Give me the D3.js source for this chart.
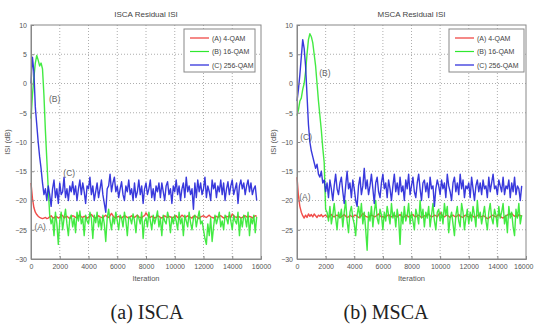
<!DOCTYPE html>
<html><head><meta charset="utf-8">
<script src="https://cdn.jsdelivr.net/npm/d3@7"></script>
<style>
html,body{margin:0;padding:0;background:#fff;}
svg{display:block;}
</style></head>
<body>
<svg id="fig" width="534" height="326"></svg>
<script>
// ---------- data (sampled every 100 iterations, 0..15700) ----------
const iterations = d3.range(0, 15701, 100);
const xTicks = [0,2000,4000,6000,8000,10000,12000,14000,16000];
const yTicks = [10,5,0,-5,-10,-15,-20,-25,-30];
const seriesNames = ["(A) 4-QAM","(B) 16-QAM","(C) 256-QAM"];
const seriesColors = ["#ee3a36","#2fe82f","#2323d8"];

const iscaA = [
-17.0,-19.6,-21.2,-22.0,-22.4,-22.7,-22.9,-23.0,-23.1,-23.0,
-22.9,-23.1,-23.0,-22.8,-22.6,-22.9,-23.0,-22.7,-22.8,-23.0,
-22.9,-22.4,-22.6,-23.0,-22.8,-22.7,-22.9,-23.1,-22.8,-22.6,
-22.7,-22.9,-23.0,-22.6,-22.5,-22.8,-22.9,-22.7,-22.8,-23.0,
-22.9,-22.6,-22.4,-22.7,-22.9,-23.0,-22.8,-22.6,-22.8,-22.9,
-23.0,-22.7,-22.5,-22.8,-22.9,-22.6,-22.2,-22.6,-22.9,-23.0,
-22.8,-22.7,-22.9,-23.0,-22.8,-22.6,-22.7,-22.9,-23.0,-22.8,
-22.6,-22.8,-22.9,-22.7,-22.5,-22.8,-22.9,-23.0,-22.7,-22.6,
-22.1,-22.5,-22.8,-22.9,-22.7,-22.8,-23.0,-22.9,-22.6,-22.7,
-22.9,-23.0,-22.8,-22.6,-22.8,-22.9,-22.7,-22.8,-23.0,-22.9,
-22.7,-22.6,-22.9,-23.0,-22.8,-22.5,-22.7,-22.9,-22.8,-22.6,
-22.8,-22.9,-23.0,-22.7,-22.6,-22.8,-22.9,-23.1,-22.8,-22.7,
-22.6,-22.8,-22.9,-22.7,-22.5,-22.8,-22.9,-23.0,-22.8,-22.7,
-22.9,-22.7,-22.6,-22.8,-23.0,-22.9,-22.7,-22.8,-22.6,-22.9,
-22.3,-22.6,-22.8,-22.9,-22.7,-22.8,-23.0,-22.9,-22.7,-22.6,
-22.8,-22.9,-22.7,-22.8,-23.0,-22.8,-22.6,-22.7];
const iscaB = [
-6,-2,1,3.5,4.8,4.0,3.0,3.5,2.5,-2,
-8,-13,-18,-22.5,-24,-23,-26,-22,-24,-27.5,
-23.5,-22,-25,-23,-21.5,-24,-26,-23,-22.5,-24.5,
-23,-25.5,-22,-23.5,-21.8,-24,-23,-26,-22.5,-23.5,
-24,-22,-23,-26.5,-22.5,-23.8,-22,-24.5,-23,-25,
-22.5,-24,-27,-23,-21.5,-23.5,-25,-22.8,-24,-22,
-23.5,-25,-22.5,-23,-24.5,-22,-23.5,-26,-22.8,-23,
-24,-22.3,-23.5,-25.5,-22.5,-23,-24,-22,-26.5,-23.5,
-23,-24.5,-22,-23.5,-25,-22.5,-24,-23,-21.8,-24.5,
-23,-26,-22.5,-23.5,-24,-22,-23,-25.5,-22.8,-24,
-22.5,-23.5,-25,-22,-24,-23,-26,-22.5,-23.5,-24.5,
-22,-23.8,-25,-23,-22.5,-24.5,-23,-21.8,-24,-23.5,
-25,-26.5,-27.5,-24,-26,-23,-27,-24.5,-22.5,-24,
-23,-22,-24.5,-23.5,-25,-22.5,-23,-24,-22,-23.5,
-25,-22.5,-23.5,-24,-22,-26,-23,-24.5,-22.5,-23,
-24.5,-22,-26,-23,-24,-22.5,-25.5,-22.8];
const iscaC = [
0,4.5,2,-4,-7,-10,-12.5,-14.5,-17,-19,
-18,-20,-17.5,-19,-21,-18,-16.5,-19.5,-18,-20.5,
-17,-19,-18.5,-16,-19.5,-18,-20,-17.5,-18.5,-16.8,
-19,-17.5,-20,-18,-16.5,-19,-17,-18.5,-20.5,-17.5,
-18,-16,-19,-17.5,-20,-18.5,-17,-19.5,-18,-16.5,
-19,-20.5,-22,-18,-17.5,-15.5,-18.5,-17,-16,-18.5,
-17.5,-19.5,-18,-16.8,-19,-20,-17.5,-18.5,-16.5,-19,
-18,-20,-17,-19.5,-18.5,-16.5,-19,-17.5,-20.5,-18,
-17,-19,-18,-16.5,-19.5,-18,-20,-17.5,-18.5,-17,
-19.5,-17,-18.5,-20,-17.5,-16.8,-19,-18,-20.5,-17.5,
-18.5,-16.5,-19,-17.5,-20,-18,-17,-19.5,-16,-18.5,
-17.5,-19,-18,-21.5,-17,-19.5,-16.5,-18.5,-17,-19,
-18,-16,-19.5,-17.5,-18.5,-20,-16.5,-18,-17,-19.5,
-17.5,-18.5,-16.5,-19,-17,-20,-18,-16.8,-19,-17.5,
-16.5,-19,-18,-17,-20.5,-17.5,-16.5,-18,-17,-19,
-17.5,-16.5,-18.5,-17,-19,-18,-17.5,-20];

const mscaA = [
-16,-19.2,-21.0,-22.0,-22.6,-23.0,-22.5,-22.9,-22.3,-22.7,
-22.4,-22.8,-22.3,-22.6,-22.9,-22.5,-22.7,-22.4,-22.8,-22.6,
-22.5,-22.8,-22.9,-22.6,-22.4,-22.7,-22.8,-22.6,-22.5,-22.7,
-22.9,-22.8,-22.6,-22.4,-22.7,-22.9,-22.8,-22.5,-22.7,-22.8,
-22.6,-22.5,-22.7,-22.9,-22.8,-22.6,-22.2,-22.5,-22.7,-22.8,
-22.9,-22.7,-22.5,-22.6,-22.8,-22.7,-22.5,-22.3,-22.6,-22.8,
-22.7,-22.9,-22.8,-22.6,-22.4,-22.7,-22.8,-22.6,-22.5,-22.7,
-22.8,-22.6,-22.4,-22.7,-22.9,-22.8,-22.5,-22.6,-22.8,-22.7,
-22.5,-22.4,-22.7,-22.8,-22.6,-22.5,-22.7,-22.9,-22.8,-22.6,
-22.7,-22.5,-22.3,-22.6,-22.8,-22.7,-22.5,-22.6,-22.8,-22.4,
-22.1,-22.4,-22.7,-22.8,-22.6,-22.5,-22.7,-22.9,-22.6,-22.5,
-22.7,-22.8,-22.6,-22.4,-22.7,-22.8,-22.9,-22.6,-22.5,-22.7,
-22.8,-22.6,-22.5,-22.7,-22.9,-22.8,-22.6,-22.4,-22.7,-22.8,
-22.6,-22.7,-22.9,-23.1,-23.0,-22.8,-22.6,-22.5,-22.7,-22.8,
-22.6,-22.4,-22.7,-22.9,-23.0,-22.8,-22.6,-22.5,-22.3,-22.4,
-22.2,-22.5,-22.7,-22.6,-22.8,-22.4,-22.6,-22.7];
const mscaB = [
-5.5,-4.5,-3,-2.5,-1,0,2,5,7.5,8.5,
8,7,5,3,0,-3,-5.5,-8,-11,-13.5,
-21.5,-22,-23.5,-21,-24,-22.5,-20.5,-23,-25,-22,
-23,-21.5,-24.5,-22,-20,-23.5,-25.5,-22,-21,-23,
-24,-26,-22.5,-21,-23,-20.5,-24,-22,-25,-28.5,
-22,-23.5,-21,-24.5,-22,-20,-23,-24,-21.5,-22.5,
-25,-22,-23.5,-21,-22.5,-24,-20.5,-23,-22,-24.5,
-21.5,-23,-27.5,-22,-24,-21,-23.5,-22.5,-20.5,-24,
-22,-23.5,-25,-21.5,-22.5,-24,-20,-23,-21.5,-24.5,
-22,-23,-21,-24.5,-22.5,-20.5,-23.5,-25,-22,-21.5,
-23.5,-22,-24,-20.5,-22.5,-21,-25.5,-23,-22,-24,
-26,-22.5,-21,-23.5,-24.5,-20.5,-22,-25,-23,-21.5,
-24,-22,-23.5,-21,-22.5,-24.5,-20,-23,-22,-24,
-22.5,-21,-23.5,-25,-22,-20.5,-23,-24,-21.5,-22.5,
-24.5,-21,-23,-22,-20.5,-24,-22.5,-25.5,-21,-23,
-22,-24.5,-26,-21.5,-23,-20.5,-24,-22.5];
const mscaC = [
-3,-1,1.5,4.5,7.5,6,3,-2,-7,-10,
-11.5,-12.5,-13.5,-14.5,-13.8,-15.5,-16,-15,-17,-16.5,
-18.5,-17,-19.5,-16.5,-18,-20,-17.5,-15.5,-18,-19,
-17,-16,-18.5,-20.5,-17.5,-15,-18,-17,-19.5,-16.5,
-18,-20,-21,-17.5,-16,-19,-17.5,-14.5,-18,-16.5,
-19,-17.5,-15.5,-18,-20.5,-17,-16,-18.5,-19.5,-17,
-15.5,-18,-17,-19.5,-16.5,-18,-20,-17.5,-15.5,-18.5,
-17,-19,-16,-18.5,-17.5,-20,-16.5,-18,-15.5,-19,
-17.5,-16,-18.5,-19.5,-17,-15.5,-18,-20,-17,-16.5,
-18.5,-17,-19.5,-16,-18,-17.5,-21,-18,-16.5,-17.5,
-19,-16.5,-18,-17,-19.5,-15.5,-17.5,-18.5,-20,-17,
-16,-18.5,-17,-19,-15.5,-18,-16.5,-19.5,-17.5,-18,
-17,-19.5,-16,-18,-20,-17.5,-16.5,-18.5,-17,-19,
-16.5,-18,-17.5,-19.5,-16,-18.5,-17,-15.5,-18,-17.5,
-19,-16.5,-17.5,-18.5,-16,-19,-17.5,-18,-16.5,-19.5,
-17,-18.5,-16,-19,-17.5,-18,-20,-17.5];

const panels = [
  {title:"ISCA Residual ISI", caption:"(a) ISCA", series:[iscaA,iscaB,iscaC],
   left:31, right:261, top:25, bottom:259,
   ann:[{t:"(B)",x:1250,y:-3.2},{t:"(C)",x:2250,y:-15.8},{t:"(A)",x:250,y:-25.1}],
   legend:{x:184,y:29,w:71,h:43}, ylabX:10, capX:147},
  {title:"MSCA Residual ISI", caption:"(b) MSCA", series:[mscaA,mscaB,mscaC],
   left:297, right:526, top:25, bottom:259,
   ann:[{t:"(B)",x:1550,y:1.2},{t:"(C)",x:230,y:-9.7},{t:"(A)",x:150,y:-19.9}],
   legend:{x:449,y:29,w:75,h:43}, ylabX:276, capX:386}
];

const svg = d3.select("#fig");
const txt = "#555";
const font = "Liberation Sans, Arial, sans-serif";

panels.forEach(p => {
  const x = d3.scaleLinear().domain([0,16000]).range([p.left,p.right]);
  const y = d3.scaleLinear().domain([-30,10]).range([p.bottom,p.top]);
  const g = svg.append("g");

  // grid
  g.append("g").selectAll("line").data(xTicks.slice(1,-1)).join("line")
    .attr("x1",d=>x(d)).attr("x2",d=>x(d)).attr("y1",p.top).attr("y2",p.bottom)
    .attr("stroke","#999").attr("stroke-width",0.8).attr("stroke-dasharray","1,2");
  g.append("g").selectAll("line").data(yTicks.slice(1,-1)).join("line")
    .attr("x1",p.left).attr("x2",p.right).attr("y1",d=>y(d)).attr("y2",d=>y(d))
    .attr("stroke","#999").attr("stroke-width",0.8).attr("stroke-dasharray","1,2");

  // lines
  const line = d3.line().x((d,i)=>x(iterations[i])).y(d=>y(d));
  p.series.forEach((s,k) => {
    g.append("path").datum(s).attr("d",line).attr("fill","none")
      .attr("stroke",seriesColors[k]).attr("stroke-width",1.4)
      .attr("stroke-linejoin","round").attr("opacity",0.9);
  });

  // axes
  const ax = g.append("g").attr("transform",`translate(0,${p.bottom})`)
    .call(d3.axisBottom(x).tickValues(xTicks).tickSize(-3).tickPadding(5).tickFormat(d3.format("d")));
  const ay = g.append("g").attr("transform",`translate(${p.left},0)`)
    .call(d3.axisLeft(y).tickValues(yTicks).tickSize(-3).tickPadding(4));
  [ax,ay].forEach(a=>{
    a.select(".domain").attr("stroke","#888");
    a.selectAll(".tick line").attr("stroke","#888");
    a.selectAll(".tick text").attr("fill",txt).attr("font-size",7).attr("font-family",font);
  });
  // keep the last x label inside the picture
  ax.selectAll(".tick text").filter(d=>d===16000 && x(d)+10>534)
    .attr("text-anchor","end").attr("dx",533-x(16000));
  g.append("rect").attr("x",p.left).attr("y",p.top).attr("width",p.right-p.left).attr("height",p.bottom-p.top)
    .attr("fill","none").attr("stroke","#888").attr("stroke-width",1);

  // title & labels
  g.append("text").attr("x",(p.left+p.right)/2).attr("y",p.top-8).attr("text-anchor","middle")
    .attr("font-size",8).attr("font-family",font).attr("fill","#444").text(p.title);
  g.append("text").attr("x",(p.left+p.right)/2).attr("y",p.bottom+22).attr("text-anchor","middle")
    .attr("font-size",7.5).attr("font-family",font).attr("fill",txt).text("Iteration");
  g.append("text").attr("transform",`translate(${p.ylabX},${(p.top+p.bottom)/2}) rotate(-90)`)
    .attr("text-anchor","middle").attr("font-size",7.5).attr("font-family",font).attr("fill",txt).text("ISI (dB)");

  // annotations
  p.ann.forEach(a=>{
    g.append("text").attr("x",x(a.x)).attr("y",y(a.y)).attr("font-size",8.5).attr("font-family",font)
      .attr("fill","#666").text(a.t);
  });

  // legend
  const L = p.legend;
  g.append("rect").attr("x",L.x).attr("y",L.y).attr("width",L.w).attr("height",L.h)
    .attr("fill","#fff").attr("stroke","#888").attr("stroke-width",1);
  seriesNames.forEach((n,k)=>{
    const yy = L.y + 9 + k*13.5;
    g.append("line").attr("x1",L.x+6).attr("x2",L.x+25).attr("y1",yy).attr("y2",yy)
      .attr("stroke",seriesColors[k]).attr("stroke-width",1.2);
    g.append("text").attr("x",L.x+28).attr("y",yy+2.5).attr("font-size",7).attr("font-family",font)
      .attr("fill","#444").text(n);
  });

  // caption
  svg.append("text").attr("x",p.capX).attr("y",319).attr("text-anchor","middle")
    .attr("font-size",20).attr("font-family","Liberation Serif, Times New Roman, serif")
    .attr("fill","#222").text(p.caption);
});
</script>
</body></html>
